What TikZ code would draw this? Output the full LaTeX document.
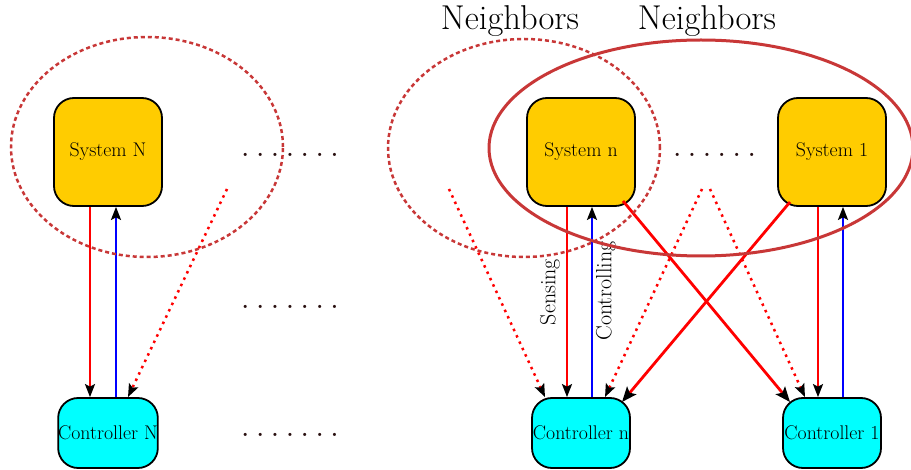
\documentclass[tikz,border=0pt]{standalone}
\usetikzlibrary{arrows.meta,shapes.geometric,calc}
\definecolor{sysyellow}{RGB}{255,204,0}
\definecolor{ctlcyan}{RGB}{0,255,255}
\definecolor{nbcol}{RGB}{200,55,55}
\definecolor{dotcol}{RGB}{40,15,15}
\newcommand\sepdot{\hspace{8.0pt}.}
\begin{document}
\begin{tikzpicture}[x=1pt,y=-1pt,
 sysbox/.style={draw=black,line width=1.8pt,fill=sysyellow,rounded corners=20pt,minimum width=108pt,minimum height=108pt,inner sep=0pt,font=\fontsize{19.8}{24}\selectfont},
 ctlbox/.style={draw=black,line width=1.8pt,fill=ctlcyan,rounded corners=20pt,minimum width=98pt,minimum height=70pt,inner sep=0pt,font=\fontsize{19.8}{24}\selectfont},
 nbdash/.style={draw=nbcol,line width=2.5pt,dash pattern=on 4pt off 3pt,ellipse,inner sep=0pt},
 nbsolid/.style={draw=nbcol,line width=3pt,ellipse,inner sep=0pt},
 tipm/.style={-{Stealth[length=13pt,width=10pt,inset=2.5pt,color=black]}},
 sense/.style={red,line width=2pt,tipm},
 ctrl/.style={blue,line width=2pt,tipm},
 cross/.style={red,line width=2.8pt,-{Stealth[length=15pt,width=12pt,inset=3pt,color=black]}},
 nbdot/.style={red,line width=2.5pt,dash pattern=on 2.5pt off 4.5pt,tipm},
 dotsrow/.style={font=\fontsize{22}{26}\selectfont\bfseries,text=dotcol,anchor=base,inner sep=0pt},
 lbl/.style={font=\fontsize{22}{26}\selectfont,rotate=90,inner sep=0pt},
 nbtxt/.style={font=\fontsize{34.5}{40}\selectfont,anchor=base,inner sep=0pt}]
\useasboundingbox (0,0) rectangle (911,470);
% systems and controllers
\node[sysbox] (sN) at (108,152) {System N};
\node[sysbox] (sn) at (581,152) {System n};
\node[sysbox] (s1) at (832,152) {System 1};
\node[ctlbox] (cN) at (108,433) {Controller N};
\node[ctlbox] (cn) at (581,433) {Controller n};
\node[ctlbox] (c1) at (832,433) {Controller 1};
% dot rows
\node[dotsrow] (r1) at (290,157) {.\sepdot\sepdot\sepdot\sepdot\sepdot\sepdot};
\node[dotsrow] (r2) at (290,309) {.\sepdot\sepdot\sepdot\sepdot\sepdot\sepdot};
\node[dotsrow] (r3) at (290,437) {.\sepdot\sepdot\sepdot\sepdot\sepdot\sepdot};
\node[dotsrow] (r4) at (714.5,157) {.\sepdot\sepdot\sepdot\sepdot\sepdot};
% sensing / controlling
\draw[sense] ($(sN.south)+(-18,0)$) -- ($(cN.north)+(-18,0)$);
\draw[ctrl] ($(cN.north)+(8,0)$) -- ($(sN.south)+(8,0)$);
\draw[sense] ($(sn.south)+(-14,0)$) -- ($(cn.north)+(-14,0)$);
\draw[ctrl] ($(cn.north)+(11,0)$) -- ($(sn.south)+(11,0)$);
\draw[sense] ($(s1.south)+(-14,0)$) -- ($(c1.north)+(-14,0)$);
\draw[ctrl] ($(c1.north)+(11,0)$) -- ($(s1.south)+(11,0)$);
\node[lbl] (lsense) at (550,292) {Sensing};
\node[lbl] (lctrl) at (606,291) {Controlling};
% neighbor (dotted) links
\coordinate (pN) at (227,189);
\coordinate (pn) at (449,189);
\coordinate (p1a) at (702,189);
\coordinate (p1b) at (710,189);
\draw[nbdot] (pN) -- ($(cN.north)+(20,0)$);
\draw[nbdot] (pn) -- ($(cn.north)+(-36,0)$);
\draw[nbdot] (p1a) -- ($(cn.north)+(24,0)$);
\draw[nbdot] (p1b) -- ($(c1.north)+(-27,0)$);
% crossing links
\draw[cross] ($(sn.center)+(42,49)$) -- ($(c1.center)+(-42,-31)$);
\draw[cross] ($(s1.center)+(-42,50)$) -- ($(cn.center)+(41,-31)$);
% neighborhoods
\node[nbdash,minimum width=272pt,minimum height=220pt] (eN) at (147,147) {};
\node[nbdash,minimum width=272pt,minimum height=218pt] (en) at (524,148) {};
\node[nbsolid,minimum width=424pt,minimum height=216pt] (e1) at (701,148) {};
\node[nbtxt] (t1) at (510,30) {Neighbors};
\node[nbtxt] (t2) at (707,30) {Neighbors};
\end{tikzpicture}
\end{document}
